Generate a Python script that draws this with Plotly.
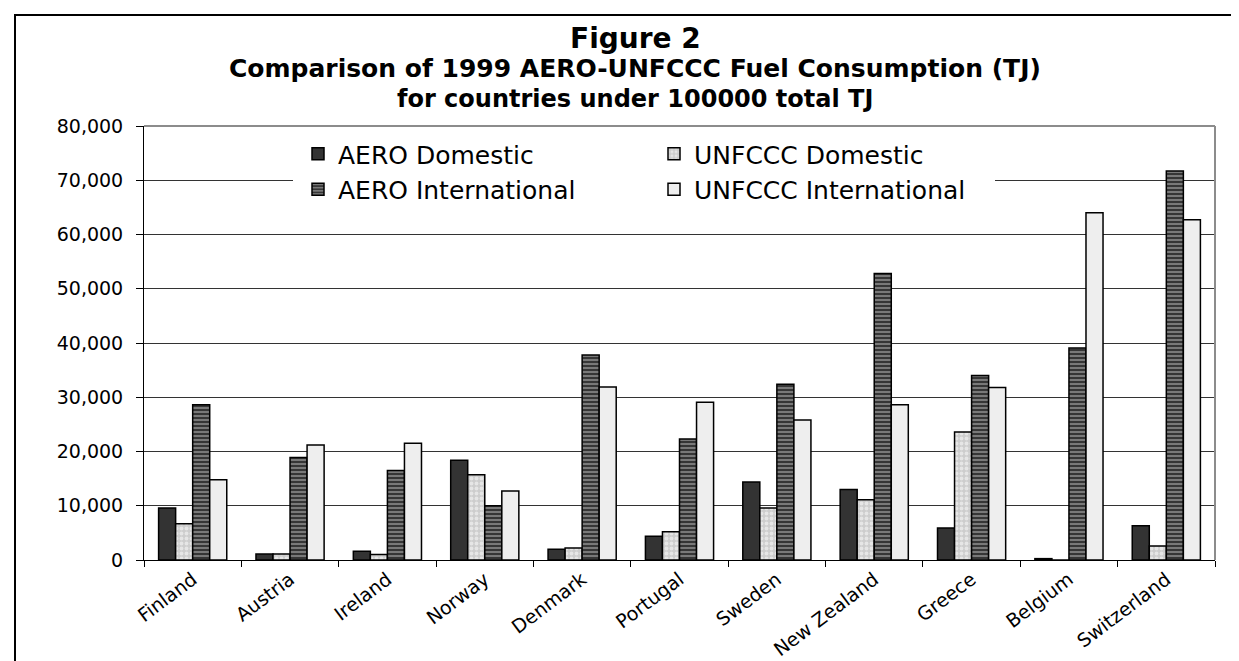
import plotly.graph_objects as go

# ---- data (TJ) ----
countries = ["Finland", "Austria", "Ireland", "Norway", "Denmark", "Portugal",
             "Sweden", "New Zealand", "Greece", "Belgium", "Switzerland"]
aero_domestic = [9600, 1100, 1600, 18400, 2000, 4400, 14400, 13000, 5900, 250, 6300]
unfccc_domestic = [6700, 1100, 1000, 15700, 2200, 5200, 9600, 11100, 23600, 0, 2600]
aero_international = [28600, 18900, 16500, 10000, 37800, 22300, 32400, 52800, 34000, 39100, 71700]
unfccc_international = [14800, 21200, 21500, 12700, 31900, 29100, 25800, 28600, 31800, 64000, 62700]

series_names = ["AERO Domestic", "UNFCCC Domestic", "AERO International", "UNFCCC International"]
y_tick_values = [0, 10000, 20000, 30000, 40000, 50000, 60000, 70000, 80000]

title_main = "Figure 2"
title_sub1 = "Comparison of 1999 AERO-UNFCCC Fuel Consumption (TJ)"
title_sub2 = "for countries under 100000 total TJ"

FONT = "DejaVu Sans"
W, H = 1239, 661
L, R, T, B = 136, 32, 118, 109
PW, PH = W - L - R, H - T - B


def px_x(x):
    return (x - L) / PW


def px_y(y):
    return (H - B - y) / PH


outline = dict(color="black", width=1.5)

fig = go.Figure()
fig.add_trace(go.Bar(
    x=countries, y=aero_domestic, name=series_names[0], legend="legend",
    marker=dict(color="#333333", line=outline)))
fig.add_trace(go.Bar(
    x=countries, y=unfccc_domestic, name=series_names[1], legend="legend2",
    marker=dict(color="#d0d0d0", line=outline,
                pattern=dict(shape=".", fgcolor="white", bgcolor="#cdcdcd",
                             size=5, solidity=0.45))))
fig.add_trace(go.Bar(
    x=countries, y=aero_international, name=series_names[2], legend="legend",
    marker=dict(color="#333333", line=outline,
                pattern=dict(shape="-", fgcolor="#c4c4c4", bgcolor="#2e2e2e",
                             size=4, solidity=0.55))))
fig.add_trace(go.Bar(
    x=countries, y=unfccc_international, name=series_names[3], legend="legend2",
    marker=dict(color="#eeeeee", line=outline)))

legend_common = dict(
    orientation="v", xanchor="left", yanchor="top", bgcolor="rgba(0,0,0,0)",
    font=dict(family=FONT, size=25, color="black"), itemwidth=30,
    tracegroupgap=0, borderwidth=0)

fig.update_layout(
    width=W, height=H,
    margin=dict(l=L, r=R, t=T, b=B, autoexpand=False),
    paper_bgcolor="white", plot_bgcolor="white",
    barmode="group", bargap=0.3, bargroupgap=0,
    font=dict(family=FONT, color="black"),
    legend=dict(x=px_x(290), y=px_y(123), **legend_common),
    legend2=dict(x=px_x(646), y=px_y(123), **legend_common),
    showlegend=True,
)

fig.update_xaxes(
    showline=True, linecolor="black", linewidth=1,
    ticks="outside", tickson="boundaries", ticklen=6, tickcolor="black",
    tickangle=-37, tickfont=dict(family=FONT, size=19, color="black"),
    showgrid=False)

fig.update_yaxes(
    range=[0, 80000], tickvals=y_tick_values, tickformat=",d",
    showline=True, linecolor="black", linewidth=1,
    ticks="outside", ticklen=7, tickcolor="black", ticklabelstandoff=9,
    tickfont=dict(family=FONT, size=19, color="black"),
    showgrid=True, gridcolor="#333333", gridwidth=1, zeroline=False)

# titles
cx = px_x(627)
fig.add_annotation(text="<b>%s</b>" % title_main, x=cx, y=px_y(31), xref="paper", yref="paper",
                   showarrow=False, xanchor="center", yanchor="middle",
                   font=dict(family=FONT, size=28, color="black"))
fig.add_annotation(text="<b>%s</b>" % title_sub1, x=cx, y=px_y(61), xref="paper", yref="paper",
                   showarrow=False, xanchor="center", yanchor="middle",
                   font=dict(family=FONT, size=25, color="black"))
fig.add_annotation(text="<b>%s</b>" % title_sub2, x=cx, y=px_y(91), xref="paper", yref="paper",
                   showarrow=False, xanchor="center", yanchor="middle",
                   font=dict(family=FONT, size=24, color="black"))

shapes = [
    # legend white box
    dict(type="rect", xref="paper", yref="paper", x0=px_x(285), x1=px_x(987),
         y0=px_y(197), y1=px_y(124), fillcolor="white", line=dict(width=0), layer="above"),
    # plot area top / right border (grey)
    dict(type="line", xref="paper", yref="paper", x0=0, x1=1, y0=1, y1=1,
         line=dict(color="#8c8c8c", width=2)),
    dict(type="line", xref="paper", yref="paper", x0=1, x1=1, y0=0, y1=1,
         line=dict(color="#8c8c8c", width=2)),
    # outer chart border
    dict(type="rect", xref="paper", yref="paper", x0=px_x(7), x1=px_x(1234),
         y0=px_y(680), y1=px_y(7), line=dict(color="black", width=2),
         fillcolor="rgba(0,0,0,0)"),
]
fig.update_layout(shapes=shapes)

fig.write_html("out.html")
